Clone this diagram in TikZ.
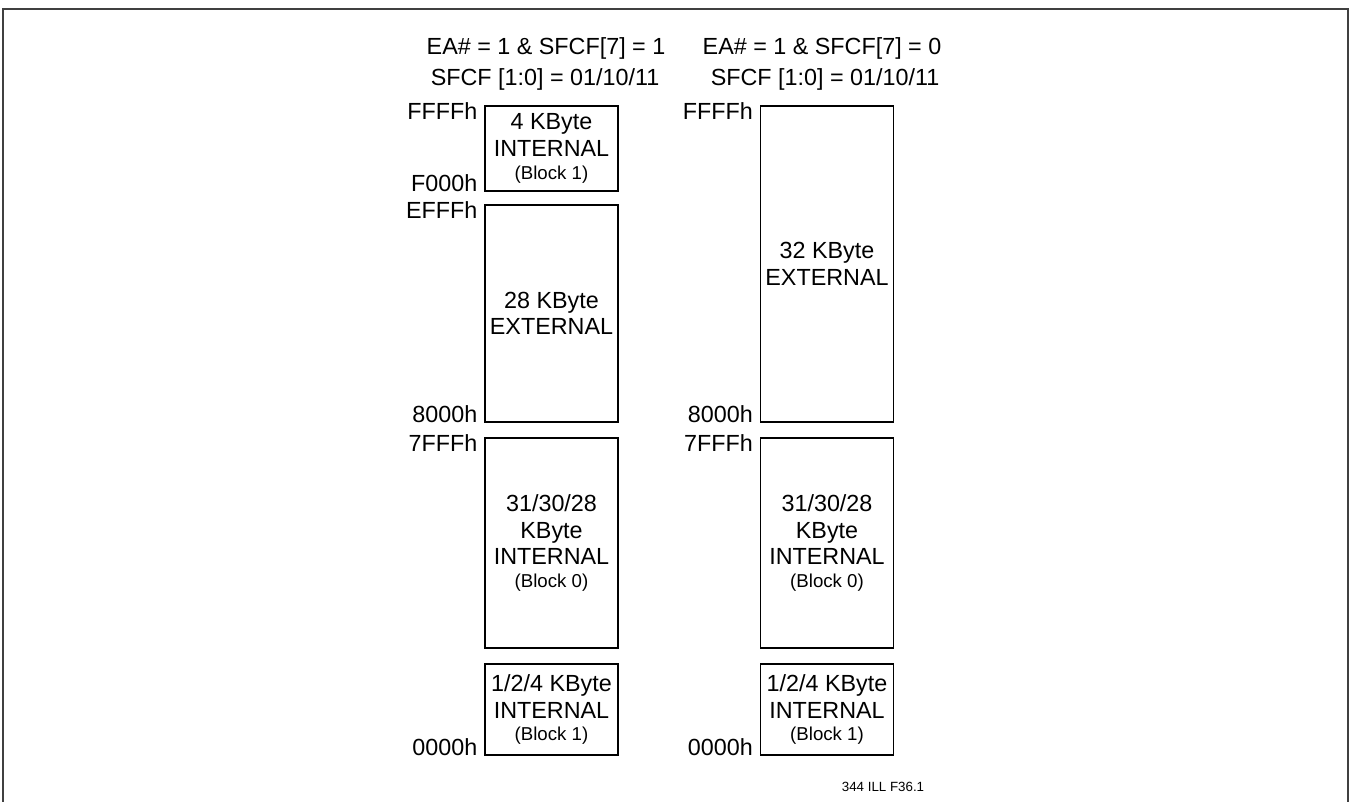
\documentclass[tikz,border=0pt]{standalone}
\usepackage{fontspec}
\setmainfont{Liberation Sans}
\usetikzlibrary{positioning}

\newcommand{\blockno}[1]{{\fontsize{14}{16}\selectfont #1}}

\begin{document}
\begin{tikzpicture}[
        x=0.75pt,
        y=-0.75pt,
        memblk/.style={draw, line width=1.1pt, inner sep=0pt, align=center,
            minimum width=133*0.75pt, minimum height=#1*0.75pt,
            font=\fontsize{17.5}{20}\selectfont},
        addr/.style={inner sep=0pt, font=\fontsize{17.5}{20}\selectfont},
        head/.style={inner sep=0pt, anchor=base, font=\fontsize{17.5}{20}\selectfont}
    ]
    \useasboundingbox (0,0) rectangle (1351,802);
    \draw[line width=1.5pt, black!75] (3,802) -- (3,9) -- (1348,9) -- (1348,802);

    % column headings
    \node[head] (headA) at (546,55) {EA\# = 1 \& SFCF[7] = 1};
    \node[head] (selA) at (545,86) {SFCF [1:0] = 01/10/11};
    \node[head] (headB) at (822,55) {EA\# = 1 \& SFCF[7] = 0};
    \node[head] (selB) at (825,86) {SFCF [1:0] = 01/10/11};

    % left map
    \node[memblk=85] (a1) at (551.5,148.5) {4 KByte\\INTERNAL\\[-3pt]\blockno{(Block 1)}};
    \node[memblk=217] (a2) at (551.5,313.5) {28 KByte\\EXTERNAL};
    \node[memblk=210] (a3) at (551.5,543) {31/30/28\\KByte\\INTERNAL\\[-3pt]\blockno{(Block 0)}};
    \node[memblk=91] (a4) at (551.5,709.5) {1/2/4 KByte\\INTERNAL\\[-3pt]\blockno{(Block 1)}};

    % right map
    \node[memblk=316] (b1) at (827,264) {32 KByte\\EXTERNAL};
    \node[memblk=210] (b3) at (827,543) {31/30/28\\KByte\\INTERNAL\\[-3pt]\blockno{(Block 0)}};
    \node[memblk=91] (b4) at (827,709.5) {1/2/4 KByte\\INTERNAL\\[-3pt]\blockno{(Block 1)}};

    % addresses
    \node[addr, anchor=north east, xshift=-5pt, yshift=2pt] (a1top) at (a1.north west) {FFFFh};
    \node[addr, anchor=base east, xshift=-5pt] (a1bot) at (a1.south west) {F000h};
    \node[addr, anchor=north east, xshift=-5pt, yshift=2pt] (a2top) at (a2.north west) {EFFFh};
    \node[addr, anchor=base east, xshift=-5pt] (a2bot) at (a2.south west) {8000h};
    \node[addr, anchor=north east, xshift=-5pt, yshift=2pt] (a3top) at (a3.north west) {7FFFh};
    \node[addr, anchor=base east, xshift=-5pt] (a4bot) at (a4.south west) {0000h};

    \node[addr, anchor=north east, xshift=-5pt, yshift=2pt] (b1top) at (b1.north west) {FFFFh};
    \node[addr, anchor=base east, xshift=-5pt] (b1bot) at (b1.south west) {8000h};
    \node[addr, anchor=north east, xshift=-5pt, yshift=2pt] (b3top) at (b3.north west) {7FFFh};
    \node[addr, anchor=base east, xshift=-5pt] (b4bot) at (b4.south west) {0000h};

    \node[inner sep=0pt, font=\fontsize{10}{12}\selectfont] (figno) at (883,787) {344 ILL F36.1};
\end{tikzpicture}
\end{document}
